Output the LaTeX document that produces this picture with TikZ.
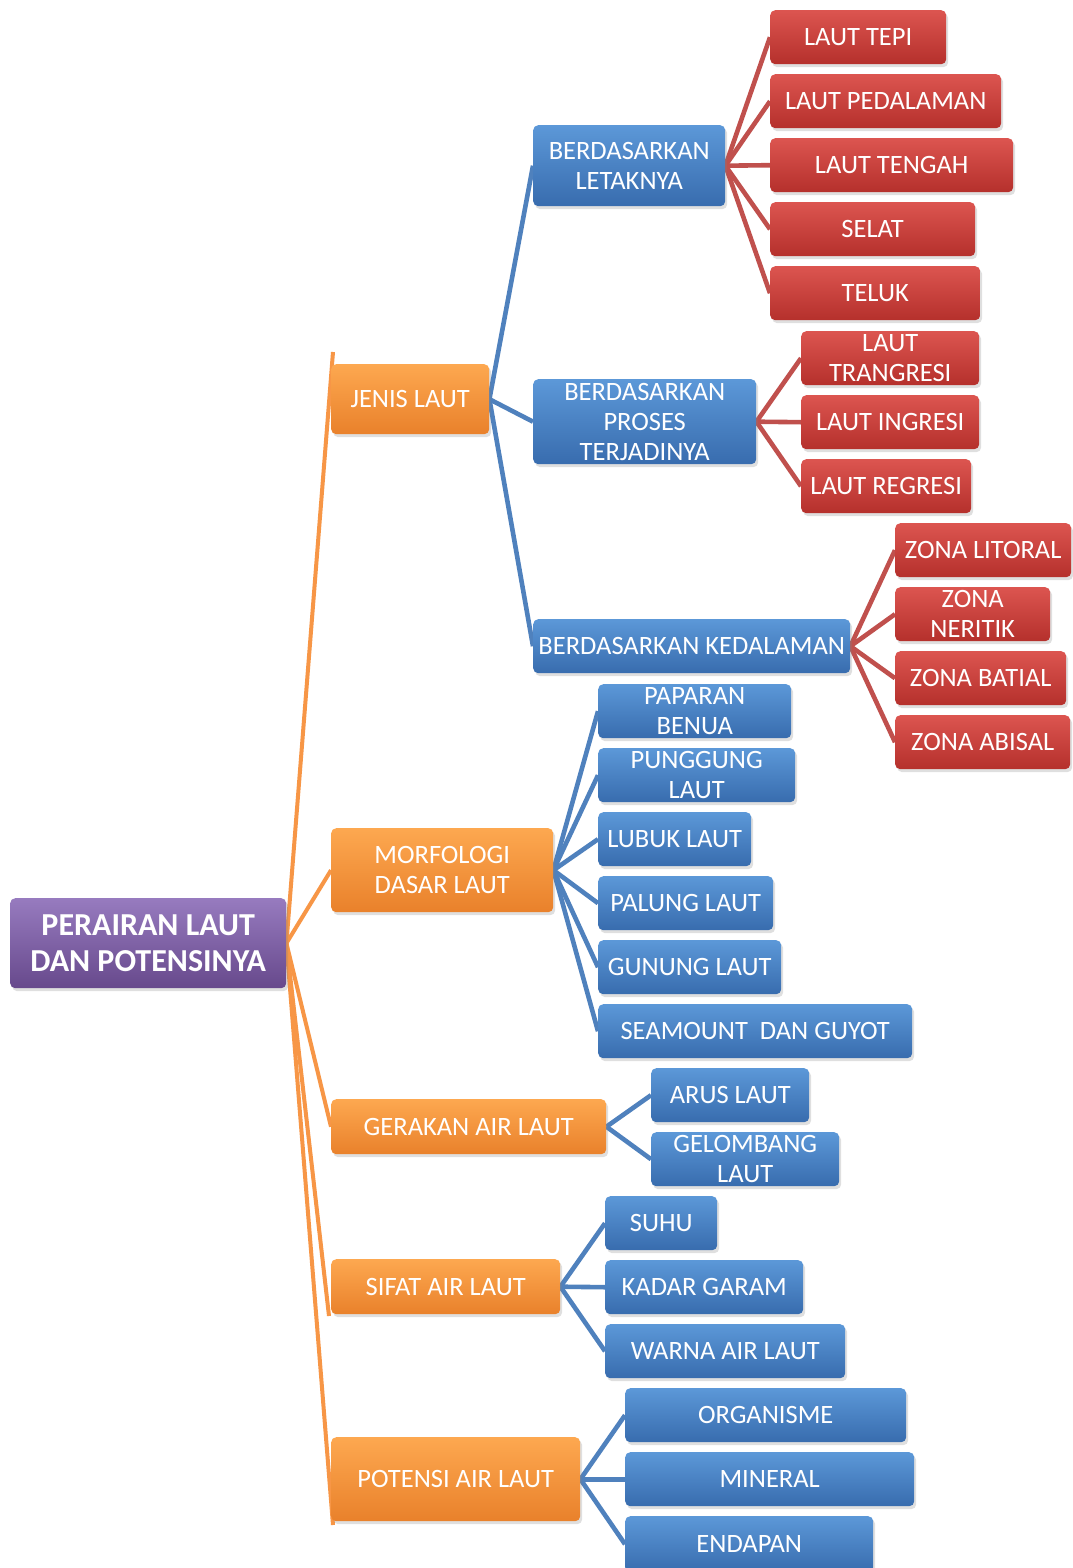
\documentclass[tikz,border=0pt]{standalone}
\usepackage{fontspec}
\setmainfont{Carlito}
\usetikzlibrary{shadows,calc}
\pgfdeclarelayer{bg}
\pgfsetlayers{bg,main}
\definecolor{orgT}{HTML}{FDA850}
\definecolor{orgB}{HTML}{E9812B}
\definecolor{bluT}{HTML}{5C98D8}
\definecolor{bluB}{HTML}{386CAE}
\definecolor{redT}{HTML}{DC5550}
\definecolor{redB}{HTML}{B5302C}
\definecolor{purT}{HTML}{977BBF}
\definecolor{purB}{HTML}{67498C}
\definecolor{orgL}{HTML}{F79646}
\definecolor{bluL}{HTML}{4F81BD}
\definecolor{redL}{HTML}{C0504D}
\begin{document}
\begin{tikzpicture}[x=1pt,y=-1pt,
  box/.style={rounded corners=5pt, anchor=north west, inner sep=0pt, align=center,
    text=white, font=\fontsize{26.5}{30}\selectfont,
    drop shadow={shadow xshift=2pt,shadow yshift=-3pt,opacity=0.25}},
  obox/.style={box, top color=orgT, bottom color=orgB},
  bbox/.style={box, top color=bluT, bottom color=bluB},
  rbox/.style={box, top color=redT, bottom color=redB},
  pbox/.style={box, top color=purT, bottom color=purB, font=\bfseries\fontsize{32}{36}\selectfont},
  oline/.style={draw=orgL, line width=4pt},
  bline/.style={draw=bluL, line width=4.6pt},
  rline/.style={draw=redL, line width=4.6pt}
]
\useasboundingbox (0,0) rectangle (1072,1568);

% root
\node[pbox, minimum width=276pt, minimum height=90pt] (root) at (10,898) {PERAIRAN LAUT\\DAN POTENSINYA};

% level 1
\node[obox, minimum width=158pt, minimum height=70pt] (jenis) at (331,364) {JENIS LAUT};
\node[obox, minimum width=222pt, minimum height=84pt] (morf) at (331,828) {MORFOLOGI\\DASAR LAUT};
\node[obox, minimum width=275pt, minimum height=55pt] (gerak) at (331,1099) {GERAKAN AIR LAUT};
\node[obox, minimum width=229pt, minimum height=55pt] (sifat) at (331,1259) {SIFAT AIR LAUT};
\node[obox, minimum width=249pt, minimum height=84pt] (potensi) at (331,1437) {POTENSI AIR LAUT};

% level 2 under jenis
\node[bbox, minimum width=192pt, minimum height=81pt] (letak) at (533,125) {BERDASARKAN\\LETAKNYA};
\node[bbox, minimum width=223pt, minimum height=85pt] (proses) at (533,379) {BERDASARKAN\\PROSES\\TERJADINYA};
\node[bbox, minimum width=317pt, minimum height=54pt] (dalam) at (533,619) {BERDASARKAN KEDALAMAN};

% red under letak
\node[rbox, minimum width=176pt, minimum height=54pt] (tepi) at (770,10) {LAUT TEPI};
\node[rbox, minimum width=231pt, minimum height=54pt] (pedal) at (770,74) {LAUT PEDALAMAN};
\node[rbox, minimum width=243pt, minimum height=54pt] (tengah) at (770,138) {LAUT TENGAH};
\node[rbox, minimum width=205pt, minimum height=54pt] (selat) at (770,202) {SELAT};
\node[rbox, minimum width=210pt, minimum height=54pt] (teluk) at (770,266) {TELUK};

% red under proses
\node[rbox, minimum width=178pt, minimum height=54pt] (trang) at (801,331) {LAUT\\TRANGRESI};
\node[rbox, minimum width=178pt, minimum height=54pt] (ingr) at (801,395) {LAUT INGRESI};
\node[rbox, minimum width=170pt, minimum height=54pt] (regr) at (801,459) {LAUT REGRESI};

% red under dalam
\node[rbox, minimum width=176pt, minimum height=54pt] (lito) at (895,523) {ZONA LITORAL};
\node[rbox, minimum width=155pt, minimum height=54pt] (neri) at (895,587) {ZONA\\NERITIK};
\node[rbox, minimum width=171pt, minimum height=54pt] (bati) at (895,651) {ZONA BATIAL};
\node[rbox, minimum width=175pt, minimum height=54pt] (abis) at (895,715) {ZONA ABISAL};

% blue under morf
\node[bbox, minimum width=193pt, minimum height=54pt] (papa) at (598,684) {PAPARAN\\BENUA};
\node[bbox, minimum width=197pt, minimum height=54pt] (pung) at (598,748) {PUNGGUNG\\LAUT};
\node[bbox, minimum width=153pt, minimum height=54pt] (lubu) at (598,812) {LUBUK LAUT};
\node[bbox, minimum width=175pt, minimum height=54pt] (palu) at (598,876) {PALUNG LAUT};
\node[bbox, minimum width=183pt, minimum height=54pt] (gunu) at (598,940) {GUNUNG LAUT};
\node[bbox, minimum width=314pt, minimum height=54pt] (seam) at (598,1004) {SEAMOUNT\ \ DAN GUYOT};

% blue under gerak
\node[bbox, minimum width=158pt, minimum height=54pt] (arus) at (651,1068) {ARUS LAUT};
\node[bbox, minimum width=188pt, minimum height=54pt] (gelo) at (651,1132) {GELOMBANG\\LAUT};

% blue under sifat
\node[bbox, minimum width=112pt, minimum height=54pt] (suhu) at (605,1196) {SUHU};
\node[bbox, minimum width=198pt, minimum height=54pt] (kada) at (605,1260) {KADAR GARAM};
\node[bbox, minimum width=240pt, minimum height=54pt] (warn) at (605,1324) {WARNA AIR LAUT};

% blue under potensi
\node[bbox, minimum width=281pt, minimum height=54pt] (orga) at (625,1388) {ORGANISME};
\node[bbox, minimum width=289pt, minimum height=54pt] (mine) at (625,1452) {MINERAL};
\node[bbox, minimum width=248pt, minimum height=56pt] (enda) at (625,1516) {ENDAPAN};

% free ends of the orange connectors
\coordinate (jt) at (333,352);
\coordinate (st) at (329,1316);
\coordinate (pt) at (333,1525);

\begin{pgfonlayer}{bg}
  \fill[white] (0,0) rectangle (1072,1568);
  \draw[oline] (root.east) -- (jt);
  \draw[oline] (root.east) -- (morf.west);
  \draw[oline] (root.east) -- (gerak.west);
  \draw[oline] (root.east) -- (st);
  \draw[oline] (root.east) -- (pt);

  \foreach \c in {letak,proses,dalam} \draw[bline] (jenis.east) -- (\c.west);
  \foreach \c in {tepi,pedal,tengah,selat,teluk} \draw[rline] (letak.east) -- (\c.west);
  \foreach \c in {trang,ingr,regr} \draw[rline] (proses.east) -- (\c.west);
  \foreach \c in {lito,neri,bati,abis} \draw[rline] (dalam.east) -- (\c.west);
  \foreach \c in {papa,pung,lubu,palu,gunu,seam} \draw[bline] (morf.east) -- (\c.west);
  \foreach \c in {arus,gelo} \draw[bline] (gerak.east) -- (\c.west);
  \foreach \c in {suhu,kada,warn} \draw[bline] (sifat.east) -- (\c.west);
  \foreach \c in {orga,mine,enda} \draw[bline] (potensi.east) -- (\c.west);
\end{pgfonlayer}
\end{tikzpicture}
\end{document}
